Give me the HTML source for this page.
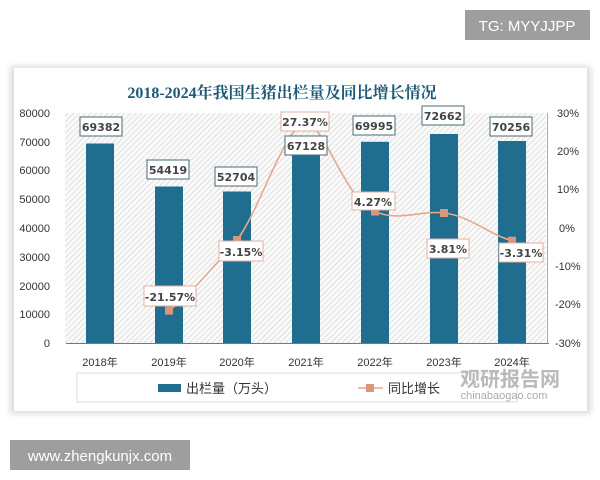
<!DOCTYPE html>
<html><head><meta charset="utf-8"><style>
body{margin:0;width:600px;height:480px;background:#fff;overflow:hidden;font-family:"Liberation Sans","Noto Sans CJK SC",sans-serif}
</style></head><body>
<svg width="600" height="480" xmlns="http://www.w3.org/2000/svg" style="position:absolute;left:0;top:0">
<defs>
<pattern id="h" width="4" height="4" patternUnits="userSpaceOnUse" patternTransform="rotate(45)">
<rect width="4" height="4" fill="#fafafa"/><line x1="0" y1="0" x2="0" y2="4" stroke="#cfcfcf" stroke-width="1.2"/>
</pattern>
<filter id="s" x="-5%" y="-5%" width="110%" height="110%"><feGaussianBlur stdDeviation="3"/></filter>
</defs>
<rect x="465" y="10" width="125" height="30" fill="#9e9e9e"/>
<text x="527" y="31" font-size="15" fill="#fff" text-anchor="middle">TG: MYYJJPP</text>
<rect x="10" y="66" width="581" height="348" fill="#ddd" filter="url(#s)"/>
<rect x="14" y="68" width="573" height="343" fill="#fff"/>
<text x="282" y="98" font-size="16" font-weight="bold" fill="#1d5a78" text-anchor="middle" font-family="Liberation Serif,Noto Serif CJK SC,serif">2018-2024年我国生猪出栏量及同比增长情况</text>
<rect x="65" y="113" width="481" height="230" fill="url(#h)"/>
<g font-size="11" fill="#333" text-anchor="end">
<text x="50" y="117">80000</text><text x="50" y="146">70000</text><text x="50" y="174">60000</text><text x="50" y="203">50000</text><text x="50" y="232">40000</text><text x="50" y="261">30000</text><text x="50" y="290">20000</text><text x="50" y="318">10000</text><text x="50" y="347">0</text>
</g>
<g font-size="11" fill="#333">
<text x="557" y="117">30%</text><text x="557" y="155">20%</text><text x="557" y="193">10%</text><text x="559" y="232">0%</text><text x="555" y="270">-10%</text><text x="555" y="308">-20%</text><text x="555" y="347">-30%</text>
</g>
<line x1="66" y1="343.5" x2="549" y2="343.5" stroke="#777"/>
<line x1="547.5" y1="113" x2="547.5" y2="343" stroke="#aaa"/>
<g fill="#1f6e8f">
<rect x="86" y="143.5" width="28" height="199.5"/>
<rect x="155" y="186.5" width="28" height="156.5"/>
<rect x="223" y="191.5" width="28" height="151.5"/>
<rect x="292" y="150" width="28" height="193"/>
<rect x="361" y="141.8" width="28" height="201.2"/>
<rect x="430" y="134" width="28" height="209"/>
<rect x="498" y="141" width="28" height="202"/>
</g>
<path d="M169,310.6 C190,295 215,265 237,240 C260,210 285,125 306,123 C325,125 345,200 375,211.6 C400,222 420,210 444,213 C470,216 490,235 512,240.7" fill="none" stroke="#e8a88c" stroke-width="1.6"/>
<g fill="#d9967a">
<rect x="165" y="306.6" width="8" height="8"/><rect x="233" y="236" width="8" height="8"/><rect x="302" y="119" width="8" height="8"/><rect x="371" y="207.6" width="8" height="8"/><rect x="440" y="209" width="8" height="8"/><rect x="508" y="236.7" width="8" height="8"/>
</g>
<g font-size="11" font-weight="bold" fill="#444" text-anchor="middle" font-family="DejaVu Sans,sans-serif">
<rect x="80" y="117" width="42" height="19" fill="#fff" stroke="#4a6b76"/><text x="101" y="131">69382</text>
<rect x="147" y="160" width="42" height="19" fill="#fff" stroke="#4a6b76"/><text x="168" y="174">54419</text>
<rect x="215" y="167" width="42" height="19" fill="#fff" stroke="#4a6b76"/><text x="236" y="181">52704</text>
<rect x="285" y="136" width="42" height="19" fill="#fff" stroke="#4a6b76"/><text x="306" y="150">67128</text>
<rect x="353" y="116" width="42" height="19" fill="#fff" stroke="#4a6b76"/><text x="374" y="130">69995</text>
<rect x="422" y="106" width="42" height="19" fill="#fff" stroke="#4a6b76"/><text x="443" y="120">72662</text>
<rect x="490" y="117" width="42" height="19" fill="#fff" stroke="#4a6b76"/><text x="511" y="131">70256</text>
</g>
<g font-size="11" font-weight="bold" fill="#444" text-anchor="middle" font-family="DejaVu Sans,sans-serif">
<rect x="281" y="112" width="48" height="19" fill="#fff" stroke="#e0b0a0"/><text x="305" y="126">27.37%</text>
<rect x="144" y="286" width="52" height="20" fill="#fff" stroke="#e0b0a0"/><text x="170" y="301">-21.57%</text>
<rect x="219" y="241" width="44" height="20" fill="#fff" stroke="#e0b0a0"/><text x="241" y="256">-3.15%</text>
<rect x="352" y="192" width="43" height="18" fill="#fff" stroke="#e0b0a0"/><text x="373" y="206">4.27%</text>
<rect x="427" y="239" width="42" height="19" fill="#fff" stroke="#e0b0a0"/><text x="448" y="253">3.81%</text>
<rect x="499" y="243" width="44" height="19" fill="#fff" stroke="#e0b0a0"/><text x="521" y="257">-3.31%</text>
</g>
<g font-size="11" fill="#333" text-anchor="middle">
<text x="100" y="366">2018年</text><text x="169" y="366">2019年</text><text x="237" y="366">2020年</text><text x="306" y="366">2021年</text><text x="375" y="366">2022年</text><text x="444" y="366">2023年</text><text x="512" y="366">2024年</text>
</g>
<rect x="77" y="373" width="440" height="29" fill="#fff" stroke="#ddd"/>
<rect x="158" y="384" width="23" height="8" fill="#1f6e8f"/>
<text x="186" y="393" font-size="13" fill="#333">出栏量（万头）</text>
<line x1="358" y1="388" x2="383" y2="388" stroke="#e8a88c" stroke-width="1.6"/>
<rect x="366" y="384" width="8" height="8" fill="#d9967a"/>
<text x="388" y="393" font-size="13" fill="#333">同比增长</text>
<text x="510" y="386" font-size="20" font-weight="bold" fill="#aaa" text-anchor="middle" opacity="0.8">观研报告网</text>
<text x="504" y="399" font-size="11" fill="#aaa" text-anchor="middle">chinabaogao.com</text>
<rect x="10" y="440" width="180" height="30" fill="#9e9e9e"/>
<text x="100" y="461" font-size="15" fill="#fff" text-anchor="middle">www.zhengkunjx.com</text>
</svg>
</body></html>
